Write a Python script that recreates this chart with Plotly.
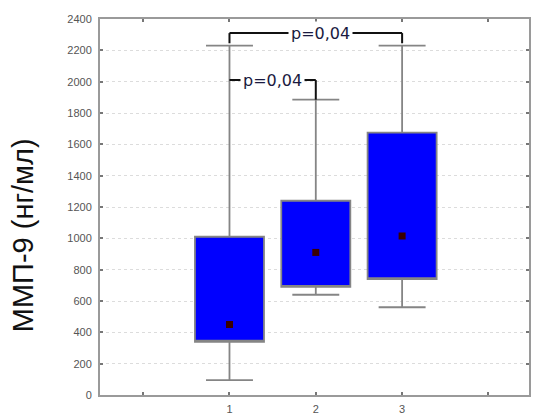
import plotly.graph_objects as go

# ---- data ----
categories = [1, 2, 3]
q1 = [340, 690, 740]
medians = [450, 910, 1015]
q3 = [1010, 1240, 1675]
lower = [95, 640, 560]
upper = [2230, 1885, 2230]

# significance brackets
br_left = [1, 1]
br_right = [3, 2]
br_level = [2310, 2010]
br_drop_left = [2245, 2010]
br_drop_right = [2245, 1885]
br_text_x = [2.05, 1.5]
br_text = ["p=0,04", "p=0,04"]

y_ticks = list(range(0, 2401, 200))
x_tickvals = [0, 1, 2, 3, 4]
x_ticktext = ["", "1", "2", "3", ""]

fig = go.Figure()

fig.add_trace(go.Box(
    x=categories,
    q1=q1,
    median=q1,          # median shown as a dot instead of a line
    q3=q3,
    lowerfence=lower,
    upperfence=upper,
    width=0.8,
    whiskerwidth=0.68,
    fillcolor="#0000FF",
    line=dict(color="#858585", width=1.8),
    boxpoints=False,
    hoverinfo="skip",
    showlegend=False,
))

fig.add_trace(go.Scatter(
    x=categories,
    y=medians,
    mode="markers",
    marker=dict(symbol="square", size=7, color="#3a0000"),
    showlegend=False,
    hoverinfo="skip",
))

shapes = []
annotations = []
for l, r, lev, dl, dr, tx, t in zip(br_left, br_right, br_level, br_drop_left,
                                     br_drop_right, br_text_x, br_text):
    line = dict(color="#111111", width=2)
    shapes.append(dict(type="line", xref="x", yref="y", x0=l, x1=r, y0=lev, y1=lev, line=line))
    if dl != lev:
        shapes.append(dict(type="line", xref="x", yref="y", x0=l, x1=l, y0=lev, y1=dl, line=line))
    if dr != lev:
        shapes.append(dict(type="line", xref="x", yref="y", x0=r, x1=r, y0=lev, y1=dr, line=line))
    annotations.append(dict(
        x=tx, y=lev, xref="x", yref="y", text=t, showarrow=False,
        font=dict(family="DejaVu Sans", size=16, color="#1a1a40"),
        bgcolor="white", borderpad=2,
    ))

annotations.append(dict(
    x=0, y=0.425, xref="paper", yref="paper", xshift=-77,
    text="ММП-9 (нг/мл)", textangle=-90, showarrow=False,
    font=dict(family="Liberation Sans", size=29, color="#111111"),
    xanchor="center", yanchor="middle",
))

fig.update_layout(
    width=534, height=418,
    margin=dict(l=100, r=3, t=19, b=19),
    paper_bgcolor="white",
    plot_bgcolor="white",
    shapes=shapes,
    annotations=annotations,
    xaxis=dict(
        range=[-0.5, 4.47],
        tickvals=x_tickvals, ticktext=x_ticktext,
        ticks="inside", ticklen=3, tickcolor="#777", tickwidth=2,
        showline=True, linecolor="#9a9a9a", linewidth=2, mirror="ticks",
        showgrid=False, zeroline=False,
        tickfont=dict(family="Liberation Sans", size=11, color="#555"),
        ticklabelstandoff=3,
    ),
    yaxis=dict(
        range=[0, 2400],
        tickvals=y_ticks,
        ticks="inside", ticklen=3, tickcolor="#777", tickwidth=2,
        showline=True, linecolor="#9a9a9a", linewidth=2, mirror="ticks",
        showgrid=True, gridcolor="#dcdcdc", griddash="dot", gridwidth=1,
        zeroline=False,
        tickfont=dict(family="Liberation Sans", size=11, color="#555"),
        ticklabelstandoff=4,
    ),
)

fig.write_html("out.html")
